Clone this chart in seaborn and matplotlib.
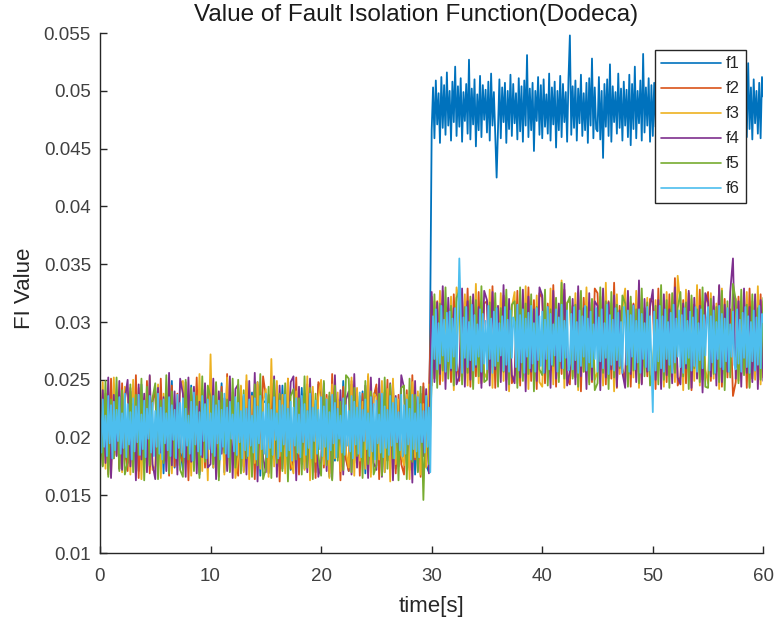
import numpy as np
import pandas as pd
import matplotlib
matplotlib.use("Agg")
import matplotlib.pyplot as plt
import seaborn as sns
from matplotlib.ticker import FuncFormatter

# ---- data (values in units of 1e-4) ----
series_names = ["f1", "f2", "f3", "f4", "f5", "f6"]
colors = ["#0072BD", "#D95319", "#EDB120", "#7E2F8E", "#77AC30", "#4DBEEE"]
x_ticks = [0, 10, 20, 30, 40, 50, 60]
y_ticks = [0.01, 0.015, 0.02, 0.025, 0.03, 0.035, 0.04, 0.045, 0.05, 0.055]

f1_before = [235,184,227,176,244,190,232,173,239,186, 178,240,192,229,171,246,183,236,175,231,
             243,180,234,169,238,187,249,174,228,191, 172,237,185,245,177,230,168,242,189,235,
             240,174,231,188,247,170,236,182,226,179, 185,244,171,233,192,239,176,248,167,230,
             232,169,241,181,228,175,245,186,237,172, 179,235,190,243,173,231,184,239,170,246,
             238,186,229,166,242,180,233,175,249,183, 171,246,178,234,188,240,169,230,185,236,
             243,177,237,170,231,189,247,173,228,181, 186,233,174,241,168,236,182,244,176,170]
f1_after = [466,503,459,509,471,498,455,512,468,505,462,516,470,500,457,508,473,521,461,504,
            469,511,456,499,474,506,463,527,458,502,471,510,452,497,466,513,460,505,475,501,
            464,508,457,515,470,499,462,425,468,510,459,503,473,507,455,500,467,514,461,506,
            472,498,458,511,465,504,456,509,470,531,460,502,466,507,448,500,474,512,462,505,
            459,510,469,497,463,515,457,503,471,508,451,500,466,513,460,506,473,499,456,511,
            548,462,504,468,509,457,502,472,514,461,498,466,507,455,511,470,528,459,503,467,
            465,512,458,500,442,506,469,510,461,523,456,504,473,499,463,515,468,502,457,508,
            470,501,460,514,453,506,467,521,459,500,472,509,457,532,464,503,470,511,456,505,
            461,507,469,499,450,512,464,504,471,509,458,500,466,520,452,506,473,502,462,510,
            467,503,457,513,472,498,460,529,465,505,458,511,469,500,448,508,463,504,471,512,
            455,506,467,500,462,517,458,509,470,526,464,502,473,508,456,511,466,494,460,519,
            430,505,463,514,451,501,469,508,460,524,467,503,458,510,472,500,463,507,459,512,
            495]

f2_before = [245,176,238,168,251,182,229,173,247,190, 171,243,186,254,165,236,178,249,169,232,
             240,172,251,180,226,167,245,175,238,185, 178,248,163,237,189,252,170,241,174,233,
             250,181,228,166,244,177,255,171,235,188, 167,239,175,249,183,230,164,246,179,253,
             236,170,247,187,241,162,232,176,251,173, 183,252,168,234,179,246,172,240,165,248,
             243,174,237,169,255,185,227,163,244,181, 171,249,180,242,167,238,176,253,170,235,
             246,164,231,188,250,173,243,169,237,177, 168,241,172,254,181,233,166,247,175,239]
f2_after = [322,251,318,246,327,259,312,248,324,265, 249,320,262,329,244,311,253,326,247,316,
            318,256,331,243,309,268,323,250,315,247, 254,327,245,313,261,330,249,319,242,325,
            321,247,316,258,332,244,310,255,328,251, 246,314,252,326,240,321,263,317,248,329,
            325,258,311,246,318,251,334,243,314,260, 250,323,244,316,257,327,247,312,253,320,
            317,242,329,255,313,248,324,259,338,245, 253,319,247,325,241,315,262,328,250,316,
            326,249,314,257,331,244,320,252,311,236, 248,322,255,317,243,329,251,313,258,324, 252]

f3_before = [180,248,173,239,166,252,185,231,170,244, 237,168,250,179,243,164,234,187,253,172,
             175,246,165,238,182,251,169,229,176,247, 249,178,233,167,241,186,255,171,236,163,
             272,174,247,181,230,168,252,177,239,165, 183,245,170,254,164,236,178,248,173,231,
             242,166,268,175,249,184,237,169,251,180, 169,240,186,227,172,253,163,244,179,235,
             250,177,234,165,246,182,239,171,228,188, 174,252,167,243,180,231,173,255,166,238,
             235,181,249,170,242,162,251,177,233,185, 176,237,164,248,183,240,168,229,174,246]
f3_after = [245,318,256,327,249,312,263,322,241,330, 315,252,324,245,319,260,333,247,311,256,
            251,328,243,316,258,325,249,321,240,313, 326,247,319,254,331,242,315,261,323,248,
            244,314,259,329,246,320,252,336,243,317, 318,253,325,241,312,257,330,248,319,250,
            257,322,245,334,251,316,240,324,255,311, 329,246,317,252,327,243,313,262,321,247,
            250,319,258,311,244,326,253,316,248,340, 314,241,328,256,320,249,332,245,318,259,
            247,325,251,316,242,329,255,312,263,322, 320,249,313,257,326,244,318,250,331,246, 318]

f4_before = [169,241,178,252,165,237,184,249,172,233, 250,175,229,163,246,181,238,170,254,177,
             164,243,187,235,171,256,176,240,168,251, 238,166,252,179,244,169,231,183,247,174,
             177,251,164,240,186,234,171,253,165,242, 246,180,236,168,249,175,256,162,239,183,
             170,237,182,253,166,245,173,232,187,248, 253,163,244,177,238,170,251,181,229,166,
             179,247,171,236,164,254,183,241,168,233, 240,168,255,174,231,186,245,165,252,178,
             172,251,166,239,180,247,163,236,175,254, 243,178,235,161,249,171,238,184,242,169]
f4_after = [326,248,317,255,331,242,321,258,312,246, 253,329,244,318,250,324,261,313,243,327,
            319,245,326,259,314,248,332,241,320,254, 247,315,252,328,240,322,257,311,249,330,
            323,256,313,243,327,251,316,260,333,245, 258,320,246,331,253,312,242,325,250,318,
            314,241,329,252,317,259,323,244,310,256, 243,327,255,315,248,336,246,320,257,313,
            328,250,319,242,324,254,311,247,330,252, 246,316,260,327,243,321,251,314,239,325,
            317,253,322,245,332,248,315,257,326,355, 251,318,244,329,256,313,248,324,242,319, 249]

f5_before = [238,175,249,166,233,182,252,171,241,168, 179,246,170,237,185,251,163,244,176,234,
             247,164,232,178,254,169,240,183,229,172, 166,250,181,243,171,236,165,253,179,245,
             235,177,248,163,239,187,233,170,251,174, 250,169,241,182,231,166,246,176,255,164,
             173,244,165,250,178,238,171,247,162,236, 242,181,234,168,253,174,243,164,238,185,
             167,249,176,239,163,245,180,231,172,254, 251,170,243,184,236,165,249,177,240,168,
             176,238,167,252,173,246,182,234,163,243, 245,164,251,179,237,170,244,146,236,177]
f5_after = [249,324,243,316,258,330,251,314,245,321, 327,246,313,256,322,242,319,253,331,248,
            250,317,261,325,244,312,257,328,246,315, 318,243,330,249,316,255,324,240,313,259,
            254,328,245,311,262,321,248,334,251,316, 322,251,315,244,327,257,313,246,320,241,
            247,330,256,318,242,326,252,315,260,323, 316,244,322,258,311,247,329,253,317,245,
            259,314,246,332,250,319,243,325,256,312, 326,253,317,242,323,260,311,248,330,244,
            243,320,255,313,248,327,241,318,252,333, 319,247,328,254,315,243,324,258,312,250, 321]

f6_before = [226,187,233,192,219,184,236,195,228,182,231,189,224,197,235,186,221,191,238,183,
             229,194,222,181,234,188,227,196,237,185,220,190,232,183,225,199,236,187,230,184,
             223,192,238,186,226,181,233,195,221,189,235,184,228,198,224,182,237,191,230,187,
             234,183,225,193,219,186,231,180,239,194,227,188,222,185,236,197,229,182,233,190,
             221,187,236,184,228,195,232,181,224,192,238,186,226,183,231,199,220,188,235,185,
             230,196,223,182,237,189,225,184,233,193,219,187,234,181,227,195,236,190,222,186,
             238,183,229,191,224,185,235,198,221,182,232,188,228,194,237,184,225,189,231,180,
             226,193,234,187,220,183,236,196,229,185,223,191,238,182,226,197,232,186,224,190,
             235,184,227,192,233,181,222,189,237,195,230,183,225,199,219,187,234,185,228,193,
             223,188,236,182,231,194,226,186,239,183,224,197,233,190,221,184,235,188,229,181,
             232,195,220,187,238,183,227,191,224,185,236,193,230,182,234,196,222,189,237,184,
             228,186,233,194,225,181,237,190,221,188,235,183,229,196,223,187,236,192,226,170]
f6_after = [262,305,268,311,259,299,264,314,271,302,257,308,266,309,260,303,270,312,258,297,
            355,310,256,304,269,313,261,300,267,315,258,306,263,298,270,311,257,307,264,301,
            259,314,268,303,256,309,262,312,266,299,271,305,258,313,263,302,257,310,269,304,
            300,261,315,258,306,265,311,256,303,270,308,260,314,264,299,257,312,267,305,262,
            309,256,302,268,313,259,307,263,298,271,311,257,304,266,315,260,301,269,310,258,
            264,307,259,313,267,300,256,310,262,305,270,314,258,303,265,309,261,298,268,312,
            257,304,266,311,260,299,269,315,255,306,263,302,258,312,267,308,262,300,256,313,
            303,263,310,257,306,270,314,259,301,265,311,256,307,268,299,261,313,258,305,264,
            222,309,258,302,266,314,260,305,257,311,268,300,263,308,256,315,265,303,270,310,
            261,306,256,312,264,301,269,309,258,304,262,313,257,299,267,311,260,306,271,302,
            313,258,305,265,310,256,300,268,314,261,307,259,303,266,312,257,298,270,309,263,
            259,311,264,302,257,308,269,313,261,305,256,300,266,310,258,304,263,314,260,307,
            300]

before = [f1_before, f2_before, f3_before, f4_before, f5_before, f6_before]
after = [f1_after, f2_after, f3_after, f4_after, f5_after, f6_after]

rows = []
for name, b, a in zip(series_names, before, after):
    tb = np.linspace(0, 30 - 30 / len(b), len(b))
    ta = np.linspace(30, 60, len(a))
    t = np.concatenate([tb, ta])
    v = np.concatenate([np.array(b), np.array(a)]) * 1e-4
    rows.append(pd.DataFrame({"time": t, "value": v, "series": name}))
df = pd.concat(rows, ignore_index=True)

# ---- plot ----
sns.set_theme(style="white")
plt.rcParams["font.family"] = ["Liberation Sans", "DejaVu Sans"]

fig = plt.figure(figsize=(7.75, 6.25), dpi=100)
ax = fig.add_axes([0.129, 0.115, 0.856, 0.832])

sns.lineplot(data=df, x="time", y="value", hue="series", hue_order=series_names,
             palette=colors, estimator=None, sort=False, linewidth=1.3, ax=ax)

ax.set_xlim(0, 60)
ax.set_ylim(0.01, 0.055)
ax.set_xticks(x_ticks)
ax.set_yticks(y_ticks)
ax.yaxis.set_major_formatter(FuncFormatter(lambda v, p: f"{v:g}"))
ax.tick_params(direction="in", length=5, width=1, colors="#262626",
               labelcolor="#404040", labelsize=13.5, left=True, bottom=True)
ax.tick_params(axis="y", pad=6.5)
ax.tick_params(axis="x", pad=11)
for s in ["top", "right"]:
    ax.spines[s].set_visible(False)
for s in ["left", "bottom"]:
    ax.spines[s].set_color("#262626")
    ax.spines[s].set_linewidth(1)

ax.set_title("Value of Fault Isolation Function(Dodeca)", fontsize=17.5, color="#1a1a1a",
             pad=9, x=0.477)
ax.set_xlabel("time[s]", fontsize=16, color="#262626")
ax.set_ylabel("FI Value", fontsize=16, color="#262626")
ax.xaxis.set_label_coords(0.5, -0.083)
ax.yaxis.set_label_coords(-0.098, 0.51)

leg = ax.legend(loc="upper right", bbox_to_anchor=(0.9744, 0.9673), frameon=True, fancybox=False,
                edgecolor="#262626", framealpha=1, fontsize=12, handlelength=3.6,
                labelspacing=0.6, borderpad=0.38, handletextpad=0.3, borderaxespad=0)
leg.get_frame().set_linewidth(1)
for line in leg.get_lines():
    line.set_linewidth(1.2)

fig.savefig("out.png", dpi=100)
